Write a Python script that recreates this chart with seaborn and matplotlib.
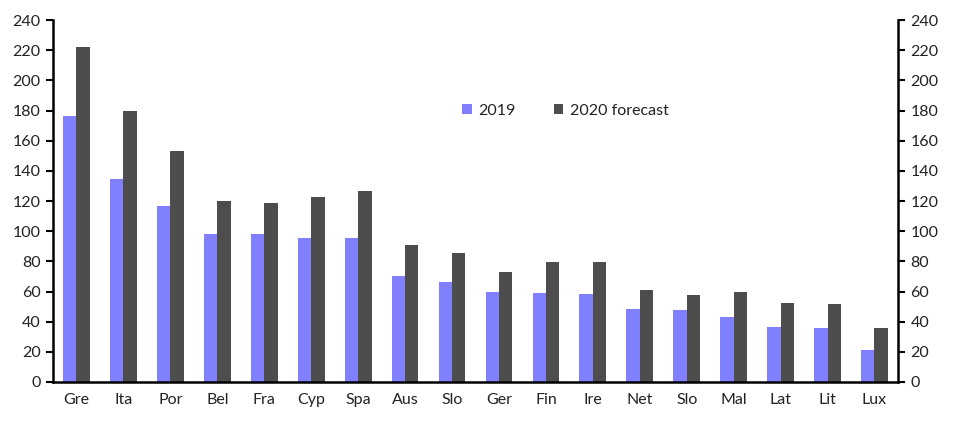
import matplotlib
matplotlib.use("Agg")
import matplotlib.pyplot as plt
import seaborn as sns
import pandas as pd
from matplotlib.ticker import FixedLocator

countries = ["Gre", "Ita", "Por", "Bel", "Fra", "Cyp", "Spa", "Aus", "Slo",
             "Ger", "Fin", "Ire", "Net", "Slo", "Mal", "Lat", "Lit", "Lux"]
values_2019 = [176.5, 134.5, 117, 98, 98, 95.5, 95.5, 70.5, 66,
               60, 59, 58.5, 48.5, 47.5, 43, 36.5, 35.5, 21.5]
values_2020 = [222, 180, 153, 120, 119, 123, 126.5, 91, 85.5,
               73, 79.5, 79.5, 61, 57.5, 59.5, 52.5, 51.5, 35.5]
series_names = ["2019", "2020 forecast"]
colors = ["#8080FF", "#4D4D4D"]
yticks = list(range(0, 241, 20))

# unique positional keys (there are two "Slo")
keys = [f"{i}" for i in range(len(countries))]
df = pd.DataFrame({
    "key": keys * 2,
    "value": values_2019 + values_2020,
    "series": [series_names[0]] * len(keys) + [series_names[1]] * len(keys),
})

sns.set_style("white")
plt.rcParams["font.family"] = ["Lato", "DejaVu Sans"]

fig = plt.figure(figsize=(9.64, 4.28), dpi=100)
ax = fig.add_axes([0.055, 0.1075, 0.8765, 0.8455])

sns.barplot(data=df, x="key", y="value", hue="series", order=keys,
            hue_order=series_names, palette=colors, width=0.57,
            saturation=1, linewidth=0, edgecolor="none", ax=ax, legend=True)

ax.set_xlim(-0.5, len(keys) - 0.5)
ax.set_ylim(0, 240)
ax.set_yticks(yticks)
ax.set_xlabel("")
ax.set_ylabel("")

ax.set_xticks(range(len(keys)))
ax.set_xticklabels(countries, fontsize=11.5, color="#222222")
ax.tick_params(axis="x", which="major", length=0, pad=8)
ax.xaxis.set_minor_locator(FixedLocator([i - 0.5 for i in range(len(keys) + 1)]))
ax.tick_params(axis="x", which="minor", length=5, width=1.5, direction="out", color="black")
ax.tick_params(axis="y", length=5, width=1.5, direction="out", color="black",
               labelsize=11.5, labelcolor="#222222", pad=4)

for s in ["top", "right"]:
    ax.spines[s].set_visible(False)
for s in ["left", "bottom"]:
    ax.spines[s].set_color("black")
    ax.spines[s].set_linewidth(1.8)

ax2 = ax.twinx()
ax2.set_ylim(0, 240)
ax2.set_yticks(yticks)
ax2.tick_params(axis="y", length=5, width=1.5, direction="out", color="black",
                labelsize=11.5, labelcolor="#222222", pad=4)
for s in ["top", "left", "bottom"]:
    ax2.spines[s].set_visible(False)
ax2.spines["right"].set_color("black")
ax2.spines["right"].set_linewidth(1.8)

handles, labels = ax.get_legend_handles_labels()
ax.legend(handles, labels, loc="center left", bbox_to_anchor=(0.467, 0.75),
          ncol=2, frameon=False, fontsize=11.5, handlelength=0.6,
          handleheight=0.6, handletextpad=0.4, columnspacing=2.4,
          labelcolor="#222222")

fig.savefig("out.png", dpi=100)
